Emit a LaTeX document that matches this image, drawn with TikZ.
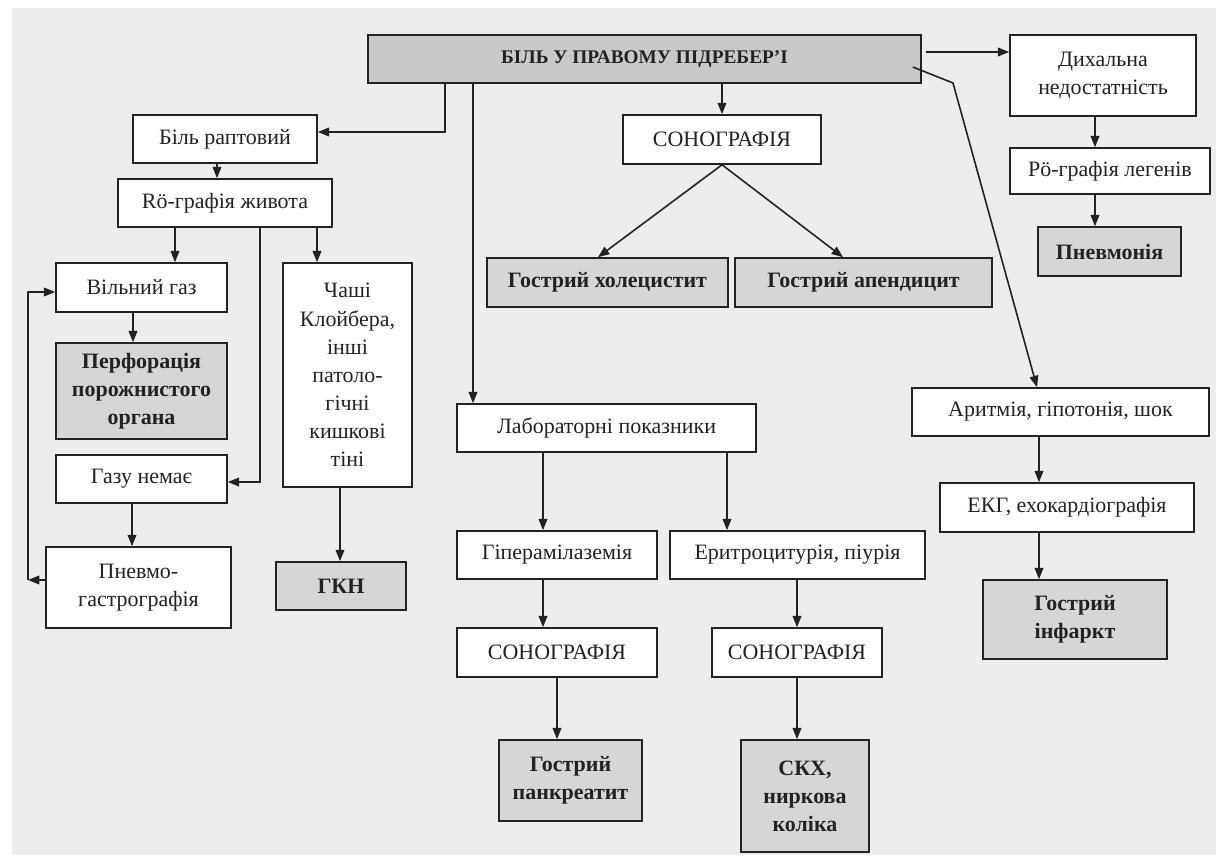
\documentclass[tikz,border=0pt]{standalone}
\usepackage{fontspec}
\setmainfont{Liberation Serif}
\usetikzlibrary{arrows.meta,calc}
\definecolor{ink}{HTML}{222222}
\definecolor{paper}{HTML}{EDEDED}
\definecolor{boxgray}{HTML}{D6D6D6}
\definecolor{topgray}{HTML}{C9C9C9}
\tikzset{
  box/.style={draw=ink, line width=0.9pt, fill=white, inner sep=0pt, align=center,
    text=ink, font=\fontsize{12.5}{16}\selectfont},
  graybox/.style={box, fill=boxgray, font=\fontsize{12.5}{16}\selectfont\bfseries},
  arr/.style={draw=ink, line width=0.9pt, -{Triangle[length=6.5pt,width=5pt]}}
}
\newcommand{\bx}[7]{\node[#1, minimum width={(#5-#3)*0.02cm}, minimum height={(#6-#4)*0.02cm}] (#2) at ({(#3+#5)/2},{(#4+#6)/2}) {#7};}
\begin{document}
\begin{tikzpicture}[x=0.02cm,y=-0.02cm]
\useasboundingbox (0,0) rectangle (1221,857);
\fill[paper] (12,8) rectangle (1216,855);
% nodes
\bx{graybox, fill=topgray, font=\fontsize{11}{14}\selectfont\bfseries}{top}{368}{35}{921}{83}{БІЛЬ У ПРАВОМУ ПІДРЕБЕР'І}
\bx{box}{br}{133}{115}{317}{163}{Біль раптовий}
\bx{box}{rg}{118}{179}{332}{227}{Rö-графія живота}
\bx{box}{vg}{56}{263}{227}{312}{Вільний газ}
\bx{graybox}{perf}{56}{343}{227}{439}{Перфорація\\порожнистого\\органа}
\bx{box}{gn}{56}{455}{227}{503}{Газу немає}
\bx{box}{pg}{46}{547}{231}{628}{Пневмо-\\гастрографія}
\bx{box}{ch}{283}{263}{412}{487}{Чаші\\Клойбера,\\інші\\патоло-\\гічні\\кишкові\\тіні}
\bx{graybox}{gkn}{276}{562}{406}{610}{ГКН}
\bx{box}{son1}{623}{115}{821}{164}{СОНОГРАФІЯ}
\bx{graybox}{hol}{487}{258}{728}{307}{Гострий холецистит}
\bx{graybox}{ap}{735}{258}{992}{307}{Гострий апендицит}
\bx{box}{lab}{457}{404}{756}{452}{Лабораторні показники}
\bx{box}{gip}{457}{531}{657}{579}{Гіперамілаземія}
\bx{box}{er}{670}{531}{925}{579}{Еритроцитурія, піурія}
\bx{box}{son2}{457}{628}{657}{677}{СОНОГРАФІЯ}
\bx{box}{son3}{712}{628}{882}{677}{СОНОГРАФІЯ}
\bx{graybox}{pank}{499}{740}{642}{821}{Гострий\\панкреатит}
\bx{graybox}{skh}{741}{740}{869}{852}{СКХ,\\ниркова\\коліка}
\bx{box}{dn}{1010}{35}{1196}{116}{Дихальна\\недостатність}
\bx{box}{rl}{1010}{148}{1210}{194}{Рö-графія легенів}
\bx{graybox}{pn}{1038}{227}{1181}{276}{Пневмонія}
\bx{box}{ar}{912}{388}{1209}{436}{Аритмія, гіпотонія, шок}
\bx{box}{ekg}{940}{483}{1194}{532}{ЕКГ, ехокардіографія}
\bx{graybox}{inf}{983}{580}{1167}{659}{Гострий\\інфаркт}
% helper coordinates
\coordinate (c1) at (445,132);
\coordinate (c2) at (260,482);
\coordinate (c3) at (28,580);
\coordinate (c4) at (28,292);
\coordinate (c5) at (953,83);
\coordinate (c6) at ($(top.east)+(4,-7)$);
\coordinate (c7) at ($(top.east)+(-9,8)$);
% connectors
\draw[arr] (c1 |- top.south) -- (c1) -- (c1 -| br.east);
\draw[arr] (217,0 |- br.south) -- (217,0 |- rg.north);
\draw[arr] (175,0 |- rg.south) -- (175,0 |- vg.north);
\draw[arr] (317,0 |- rg.south) -- (317,0 |- ch.north);
\draw[arr] (c2 |- rg.south) -- (c2) -- (c2 -| gn.east);
\draw[arr] (133,0 |- vg.south) -- (133,0 |- perf.north);
\draw[arr] (132,0 |- gn.south) -- (132,0 |- pg.north);
\draw[arr] (c3 -| pg.west) -- (c3);
\draw[arr] (c3) -- (c4) -- (c4 -| vg.west);
\draw[arr] (340,0 |- ch.south) -- (340,0 |- gkn.north);
\draw[arr] (473,0 |- top.south) -- (473,0 |- lab.north);
\draw[arr] (722,0 |- top.south) -- (722,0 |- son1.north);
\draw[arr] (son1.south) -- (598,0 |- hol.north);
\draw[arr] (son1.south) -- (843,0 |- ap.north);
\draw[arr] (c6) -- (c6 -| dn.west);
\draw[arr] (c7) -- (c5) -- (1037,0 |- ar.north);
\draw[arr] (1095,0 |- dn.south) -- (1095,0 |- rl.north);
\draw[arr] (1095,0 |- rl.south) -- (1095,0 |- pn.north);
\draw[arr] (1039,0 |- ar.south) -- (1039,0 |- ekg.north);
\draw[arr] (1039,0 |- ekg.south) -- (1039,0 |- inf.north);
\draw[arr] (543,0 |- lab.south) -- (543,0 |- gip.north);
\draw[arr] (727,0 |- lab.south) -- (727,0 |- er.north);
\draw[arr] (543,0 |- gip.south) -- (543,0 |- son2.north);
\draw[arr] (557,0 |- son2.south) -- (557,0 |- pank.north);
\draw[arr] (797,0 |- er.south) -- (797,0 |- son3.north);
\draw[arr] (797,0 |- son3.south) -- (797,0 |- skh.north);
\end{tikzpicture}
\end{document}
